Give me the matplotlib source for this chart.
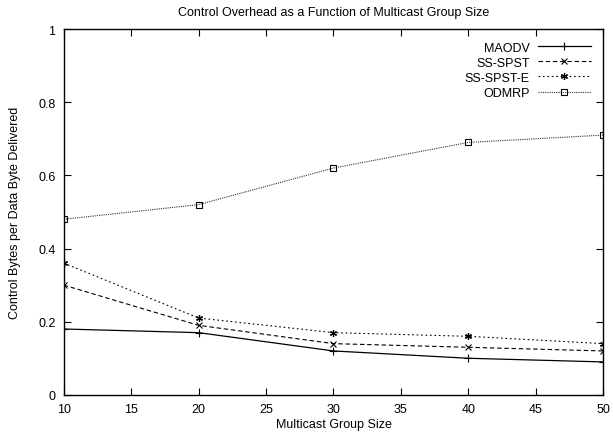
import matplotlib
matplotlib.use("Agg")
import matplotlib.pyplot as plt

group_size = [10, 20, 30, 40, 50]
maodv = [0.18, 0.17, 0.12, 0.10, 0.09]
ss_spst = [0.30, 0.19, 0.14, 0.13, 0.12]
ss_spst_e = [0.36, 0.21, 0.17, 0.16, 0.14]
odmrp = [0.48, 0.52, 0.62, 0.69, 0.71]

x_ticks = [10, 15, 20, 25, 30, 35, 40, 45, 50]
y_ticks = [0, 0.2, 0.4, 0.6, 0.8, 1]
y_labels = ["0", "0.2", "0.4", "0.6", "0.8", "1"]

plt.rcParams["font.family"] = ["Liberation Sans", "DejaVu Sans"]
plt.rcParams["font.size"] = 9

fig = plt.figure(figsize=(6.13, 4.35), dpi=100)
ax = fig.add_axes([0.104, 0.090, 0.880, 0.841])

ax.plot(group_size, maodv, color="black", lw=0.9, ls="-", marker="+", ms=6, mew=0.8, label="MAODV")
ax.plot(group_size, ss_spst, color="black", lw=0.8, ls=(0, (4, 2.5)), marker="x", ms=4.5, mew=0.8, label="SS-SPST")
ax.plot(group_size, ss_spst_e, color="black", lw=0.8, ls=(0, (1.5, 2.5)), marker=(6, 2, 0), ms=5, mew=0.9, label="SS-SPST-E")
ax.plot(group_size, odmrp, color="#333333", lw=0.8, ls=(0, (1, 1)), marker="s", ms=4.5, mew=0.8, mfc="none", mec="black", label="ODMRP")

ax.set_xlim(10, 50)
ax.set_ylim(0, 1)
ax.set_xticks(x_ticks)
ax.set_yticks(y_ticks)
ax.set_yticklabels(y_labels)
ax.tick_params(direction="in", length=5, width=0.8, top=True, right=True, labelsize=9, pad=6)
for s in ax.spines.values():
    s.set_linewidth(1.0)

ax.set_title("Control Overhead as a Function of Multicast Group Size", fontsize=9, pad=10)
ax.set_xlabel("Multicast Group Size", fontsize=9, labelpad=2)
ax.set_ylabel("Control Bytes per Data Byte Delivered", fontsize=9, labelpad=12)

leg = ax.legend(loc="upper right", frameon=False, markerfirst=False, handlelength=4.2,
                handletextpad=0.7, labelspacing=0.25, borderaxespad=0.6, fontsize=9)

fig.savefig("out.png", dpi=100)
